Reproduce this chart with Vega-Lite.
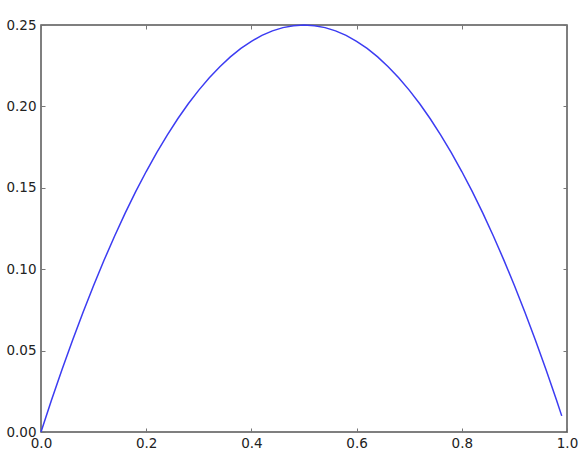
{
  "$schema": "https://vega.github.io/schema/vega-lite/v6.json",
  "width": 526,
  "height": 407,
  "autosize": {"type": "none"},
  "padding": {"left": 41, "top": 25, "right": 20, "bottom": 27},
  "background": "white",
  "config": {
    "view": {"stroke": "#555555", "strokeWidth": 1.5},
    "axis": {
      "grid": false,
      "domain": false,
      "tickSize": -4,
      "tickColor": "#777777",
      "labelFont": "DejaVu Sans",
      "labelFontSize": 13.5,
      "labelColor": "#222222",
      "labelFlush": false,
      "labelOverlap": false,
      "title": null
    }
  },
  "data": {
    "values": [
      {"x": 0.0, "y": 0.0}, {"x": 0.02, "y": 0.0196}, {"x": 0.04, "y": 0.0384},
      {"x": 0.06, "y": 0.0564}, {"x": 0.08, "y": 0.0736}, {"x": 0.1, "y": 0.09},
      {"x": 0.12, "y": 0.1056}, {"x": 0.14, "y": 0.1204}, {"x": 0.16, "y": 0.1344},
      {"x": 0.18, "y": 0.1476}, {"x": 0.2, "y": 0.16}, {"x": 0.22, "y": 0.1716},
      {"x": 0.24, "y": 0.1824}, {"x": 0.26, "y": 0.1924}, {"x": 0.28, "y": 0.2016},
      {"x": 0.3, "y": 0.21}, {"x": 0.32, "y": 0.2176}, {"x": 0.34, "y": 0.2244},
      {"x": 0.36, "y": 0.2304}, {"x": 0.38, "y": 0.2356}, {"x": 0.4, "y": 0.24},
      {"x": 0.42, "y": 0.2436}, {"x": 0.44, "y": 0.2464}, {"x": 0.46, "y": 0.2484},
      {"x": 0.48, "y": 0.2496}, {"x": 0.5, "y": 0.25}, {"x": 0.52, "y": 0.2496},
      {"x": 0.54, "y": 0.2484}, {"x": 0.56, "y": 0.2464}, {"x": 0.58, "y": 0.2436},
      {"x": 0.6, "y": 0.24}, {"x": 0.62, "y": 0.2356}, {"x": 0.64, "y": 0.2304},
      {"x": 0.66, "y": 0.2244}, {"x": 0.68, "y": 0.2176}, {"x": 0.7, "y": 0.21},
      {"x": 0.72, "y": 0.2016}, {"x": 0.74, "y": 0.1924}, {"x": 0.76, "y": 0.1824},
      {"x": 0.78, "y": 0.1716}, {"x": 0.8, "y": 0.16}, {"x": 0.82, "y": 0.1476},
      {"x": 0.84, "y": 0.1344}, {"x": 0.86, "y": 0.1204}, {"x": 0.88, "y": 0.1056},
      {"x": 0.9, "y": 0.09}, {"x": 0.92, "y": 0.0736}, {"x": 0.94, "y": 0.0564},
      {"x": 0.96, "y": 0.0384}, {"x": 0.98, "y": 0.0196}, {"x": 0.99, "y": 0.0099}
    ]
  },
  "layer": [
    {
      "mark": {"type": "line", "color": "#3c3cf2", "strokeWidth": 1.5},
      "encoding": {
        "x": {"field": "x", "type": "quantitative", "scale": {"domain": [0, 1], "nice": false},
              "axis": {"values": [0, 0.2, 0.4, 0.6, 0.8, 1.0], "format": ".1f", "labelPadding": 8}},
        "y": {"field": "y", "type": "quantitative", "scale": {"domain": [0, 0.25], "nice": false},
              "axis": {"values": [0, 0.05, 0.1, 0.15, 0.2, 0.25], "format": ".2f", "labelPadding": 9}}
      }
    },
    {
      "mark": {"type": "line", "opacity": 0},
      "encoding": {
        "x": {"field": "x", "type": "quantitative",
              "axis": {"orient": "top", "values": [0, 0.2, 0.4, 0.6, 0.8, 1.0], "labels": false}},
        "y": {"field": "y", "type": "quantitative",
              "axis": {"orient": "right", "values": [0, 0.05, 0.1, 0.15, 0.2, 0.25], "labels": false}}
      }
    }
  ],
  "resolve": {"axis": {"x": "independent", "y": "independent"}}
}
